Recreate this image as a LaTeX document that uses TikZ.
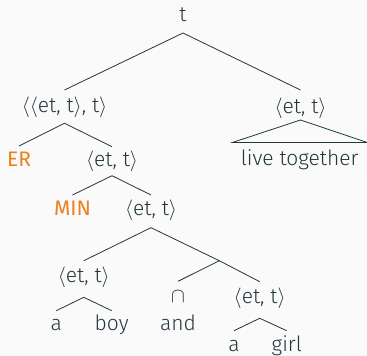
\documentclass[tikz,border=0pt]{standalone}
\usepackage{fontspec}
\setmainfont{Fira Sans}[UprightFont={* Light}]
\newfontfamily\alertfont{Fira Sans}
\usetikzlibrary{calc}
\definecolor{mtext}{HTML}{23373B}
\definecolor{morange}{HTML}{EB811B}
\definecolor{mbg}{HTML}{FAFAFA}
\newcommand{\etT}{$\langle$et, t$\rangle$}
\begin{document}
\begin{tikzpicture}[x=1pt,y=-1pt,
  lab/.style={anchor=base,inner sep=0pt,text=mtext,font=\fontsize{21}{24}\selectfont},
  hl/.style={lab,text=morange,font=\fontsize{21}{24}\alertfont},
  edge/.style={draw=mtext,line width=0.8pt}]
\fill[mbg] (0,0) rectangle (367,356);
\useasboundingbox (0,0) rectangle (367,356);
\node[lab] (root) at (183,21.7) {t};
\node[lab] (l1) at (64.5,112.3) {$\langle\langle$et, t$\rangle$, t$\rangle$};
\node[lab] (r1) at (300.5,113) {\etT};
\node[lab] (lt) at (299.7,165) {live together};
\node[hl] (er) at (19,166.7) {ER};
\node[lab] (m1) at (112,166.7) {\etT};
\node[hl] (min) at (72.5,215.7) {MIN};
\node[lab] (m2) at (151,215.7) {\etT};
\coordinate (mid) at (219.3,260.7);
\node[lab] (l3) at (83.8,282.7) {\etT};
\node[lab] (cap) at (178,302.3) {$\cap$};
\node[lab] (r3) at (259.7,303.3) {\etT};
\node[lab] (a1) at (56.3,330.7) {a};
\node[lab] (boy) at (111.7,330.7) {boy};
\node[lab] (and) at (178,330.7) {and};
\node[lab] (a2) at (234,351.7) {a};
\node[lab] (girl) at (286.7,351.7) {girl};
% connectors
\draw[edge] ([yshift=22.3pt]l1.base) -- ([yshift=-11.3pt]root.base) -- ([yshift=23pt]r1.base);
\coordinate (tapex) at ([yshift=-7pt]r1.base);
\coordinate (tl) at (232.7,142.4);
\coordinate (tr) at (367,142.4);
\draw[edge] (tl) -- (tapex) -- (tr) -- cycle;
\draw[edge] ([yshift=20.7pt]er.base) -- ([yshift=-11pt]l1.base) -- ([yshift=20pt]m1.base);
\draw[edge] ([yshift=20.7pt]min.base) -- ([yshift=-9pt]m1.base) -- ([yshift=20.7pt]m2.base);
\draw[edge] ([yshift=22pt]l3.base) -- ([yshift=-12pt]m2.base) -- (mid) -- ([yshift=21.6pt]r3.base);
\draw[edge] (mid) -- ([yshift=21pt]cap.base);
\draw[edge] ([yshift=20pt]a1.base) -- ([yshift=-14.6pt]l3.base) -- ([yshift=20pt]boy.base);
\draw[edge] ([yshift=21pt]a2.base) -- ([yshift=-15pt]r3.base) -- ([yshift=21pt]girl.base);
\end{tikzpicture}
\end{document}
